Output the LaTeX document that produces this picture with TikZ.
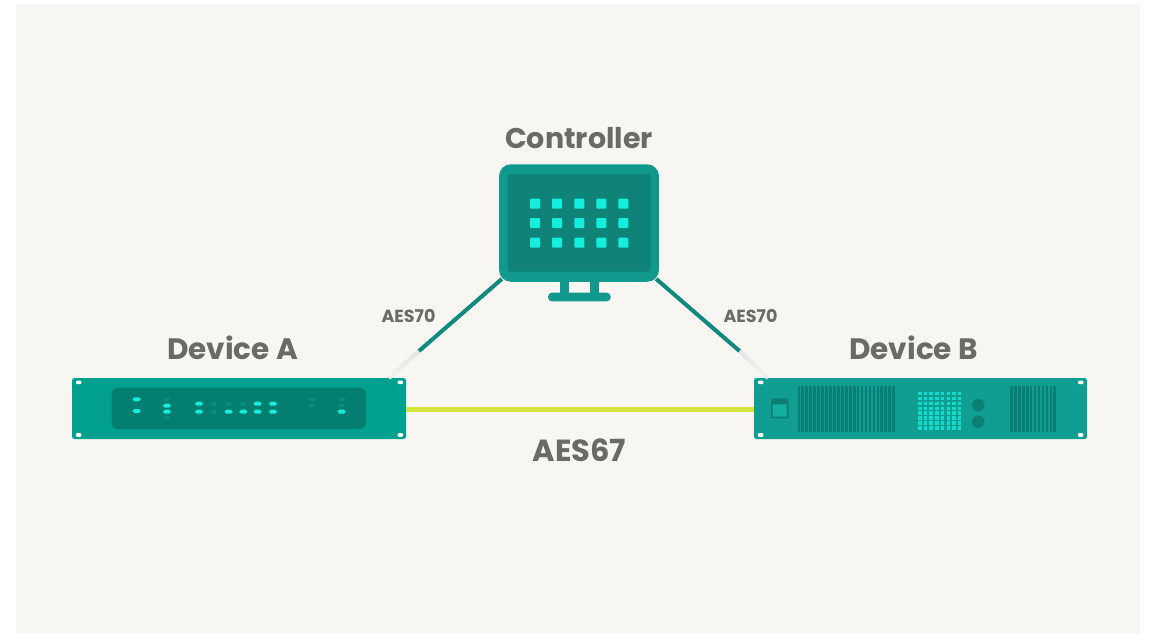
\documentclass[tikz,border=0pt]{standalone}
\usepackage{fontspec}
\usetikzlibrary{calc}
\setmainfont{Poppins}
\definecolor{bgp}{HTML}{F7F6F2}
\definecolor{txt}{HTML}{6A6A67}
\definecolor{tealA}{HTML}{02A18F}
\definecolor{tealAd}{HTML}{037F71}
\definecolor{tealB}{HTML}{119E92}
\definecolor{tealBd}{HTML}{0B7F74}
\definecolor{swt}{HTML}{12AEA0}
\definecolor{mon}{HTML}{10998C}
\definecolor{scr}{HTML}{0F8377}
\definecolor{led}{HTML}{14EEDD}
\definecolor{ledd}{HTML}{0B8C7D}
\definecolor{dots}{HTML}{10DCCB}
\definecolor{lime}{HTML}{D4E53E}
\definecolor{fade}{HTML}{E6E6E4}
\definecolor{linkc}{HTML}{0E8B7E}
\tikzset{
  x=1pt,y=-1pt,
  device/.style={rectangle,rounded corners=2.5pt,minimum width=334pt,minimum height=61pt,inner sep=0pt,line width=0pt},
  big/.style={font=\fontsize{28.5}{29}\selectfont\bfseries,text=txt,inner sep=0pt},
  bigger/.style={font=\fontsize{29.5}{30}\selectfont\bfseries,text=txt,inner sep=0pt},
  biggest/.style={font=\fontsize{30.5}{31}\selectfont\bfseries,text=txt,inner sep=0pt},
  small/.style={font=\fontsize{17.5}{18}\selectfont\bfseries,text=txt,inner sep=0pt},
  linkteal/.style={draw=linkc,line width=4pt},
  linklime/.style={draw=lime,line width=5pt},
  screw/.style={fill=white,rounded corners=1pt},
  ledon/.style={fill=led,rounded corners=1.8pt},
  ledoff/.style={fill=ledd,rounded corners=1.8pt},
}
\begin{document}
\begin{tikzpicture}
\useasboundingbox (0,0) rectangle (1150,633);
\fill[white] (0,0) rectangle (1150,633);
\fill[bgp] (16,4) rectangle (1140,633);

% main bodies
\node[device,fill=tealA] (devA) at (239,408.5) {};
\node[device,fill=tealB,minimum width=333pt] (devB) at (920.5,408.5) {};
\node[rectangle,rounded corners=12pt,fill=mon,minimum width=160pt,minimum height=117.5pt,inner sep=0pt] (ctrl) at (579,223) {};

% connectors
\coordinate (la) at (419,351);
\coordinate (ra) at (739.5,351);
\coordinate (lb) at ([xshift=-17pt]devA.north east);
\coordinate (rb) at ([xshift=14pt]devB.north west);
\foreach \f/\t in {35/1,55/0.75,75/0.5,100/0.25}{
  \draw[draw=fade!\f!bgp,line width=4pt] (la) -- ($(la)!\t!(lb)$);
  \draw[draw=fade!\f!bgp,line width=4pt] (ra) -- ($(ra)!\t!(rb)$);
}
\draw[linkteal] ([xshift=3pt,yshift=3pt]ctrl.south west) -- (la);
\draw[linkteal] ([xshift=-3pt,yshift=3pt]ctrl.south east) -- (ra);
\draw[linklime] ([yshift=-1.2pt]devA.east) -- ([yshift=-1.2pt]devB.west);

% monitor
\fill[scr,rounded corners=3pt] (507.7,174) rectangle (650.7,271.7);
\foreach \yy in {203.7,223,242.7}
  \foreach \xx in {535,557,579.3,601.3,623.3}
    \fill[led,rounded corners=1pt] (\xx-5,\yy-5) rectangle (\xx+5,\yy+5);
\fill[mon] (560,281) rectangle (569,293);
\fill[mon] (590,281) rectangle (599,293);
\fill[mon,rounded corners=4pt] (548,292.7) rectangle (610.7,301.3);

% device A
\fill[tealAd,rounded corners=6pt] (111.7,387.7) rectangle (366,429);
\foreach \sx/\sy in {78.7/382.3,400.3/382.3,78.7/435,400.3/435}
  \fill[screw] (\sx-2.7,\sy-1.8) rectangle (\sx+2.7,\sy+1.8);
\foreach \lx/\ly in {136.7/399.3,136.7/411,167/405.7,167/411.7,199/403.7,199/411.7,228.7/411.7,243.3/411.7,257.7/403.7,257.7/411.7,273/403.7,273/411.7,341.7/411.7}
  \fill[ledon] (\lx-4,\ly-2) rectangle (\lx+4,\ly+2);
\foreach \lx/\ly in {167/399.3,167/417.7,214/403.7,214/411.7,228.7/403.7,243.3/403.7,311.7/399.3,311.7/405.7,341.7/399.3,341.7/405.7}
  \fill[ledoff] (\lx-3.5,\ly-1.8) rectangle (\lx+3.5,\ly+1.8);

% device B
\foreach \sx/\sy in {760.7/382.3,1080.7/382.3,760.7/435,1080.7/435}
  \fill[screw] (\sx-2.7,\sy-1.8) rectangle (\sx+2.7,\sy+1.8);
\fill[tealBd,rounded corners=1pt] (771,398.3) rectangle (788.5,418.3);
\fill[swt,rounded corners=0.5pt] (772.7,404.3) rectangle (786.7,416.7);
\foreach \i in {0,...,24}
  \fill[tealBd] (797.5+\i*3.95,386) rectangle (800.2+\i*3.95,431.7);
\foreach \i in {0,...,11}
  \fill[tealBd] (1010+\i*3.95,386) rectangle (1012.7+\i*3.95,431.7);
\foreach \i in {0,...,7}
  \foreach \j in {0,...,7}
    \fill[dots] (918+\i*5.7,391.8+\j*4.9) rectangle ++(3.5,3.5);
\fill[tealBd] (978.3,405) circle (6.3);
\fill[tealBd] (978.3,421.7) circle (6.3);

% labels
\node[big] (lc) at (579,138) {Controller};
\node[bigger] (la1) at (232.5,347.5) {Device A};
\node[bigger] (lb1) at (913.5,347.5) {Device B};
\node[biggest] (l67) at (579.5,450) {AES67};
\node[small] (l70a) at (408.5,316) {AES70};
\node[small] (l70b) at (750.5,316) {AES70};
\end{tikzpicture}
\end{document}
